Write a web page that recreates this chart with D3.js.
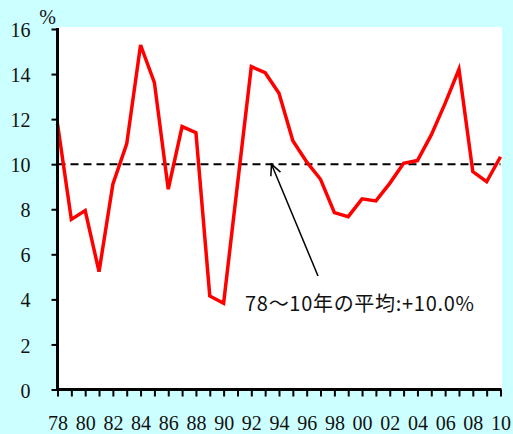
<!DOCTYPE html>
<html>
<head>
<meta charset="utf-8">
<script src="https://cdn.jsdelivr.net/npm/d3@7"></script>
<style>
  html, body { margin: 0; padding: 0; background: #ccffff; }
  svg { display: block; }
</style>
</head>
<body>
<svg id="chart" width="513" height="434"></svg>
<script>
// Annual growth rate (%), 1978–2010
const years = d3.range(1978, 2011);
const rates = [
  11.8, 7.55, 7.94, 5.23, 9.11, 10.9, 15.29, 13.62, 8.89, 11.67,
  11.4, 4.15, 3.83, 9.1, 14.33, 14.06, 13.15, 11.04, 10.1, 9.33,
  7.85, 7.67, 8.46, 8.37, 9.15, 10.04, 10.16, 11.3, 12.7, 14.21,
  9.67, 9.22, 10.33
];
const yTicks = [0, 2, 4, 6, 8, 10, 12, 14, 16];
const averageRate = 10.0;
const averageLabel = "78～10年の平均:+10.0%";
const unitLabel = "%";

const svg = d3.select("#chart");

const x = d3.scaleLinear().domain([1978, 2010]).range([57.5, 500.5]);
const y = d3.scaleLinear().domain([0, 16]).range([389.5, 29]);

// plot area
svg.append("rect")
  .attr("x", 57).attr("y", 27)
  .attr("width", 502 - 57).attr("height", 389.5 - 27)
  .attr("fill", "#ffffff");

// average reference line
svg.append("line")
  .attr("x1", x(1978)).attr("x2", x(2010))
  .attr("y1", y(averageRate)).attr("y2", y(averageRate))
  .attr("stroke", "#000").attr("stroke-width", 2)
  .attr("stroke-dasharray", "8,5");

// growth series
svg.append("path")
  .datum(years.map((yr, i) => [yr, rates[i]]))
  .attr("fill", "none")
  .attr("stroke", "#ff0000")
  .attr("stroke-width", 3.5)
  .attr("stroke-linejoin", "miter")
  .attr("d", d3.line().x(d => x(d[0])).y(d => y(d[1])));

// y axis
const yAxis = svg.append("g")
  .attr("transform", `translate(${x(1978)},0)`)
  .call(d3.axisLeft(y).tickValues(yTicks).tickSize(6).tickSizeOuter(0).tickPadding(21));
yAxis.select(".domain").attr("stroke-width", 3).attr("d", `M0,${y(0)}V${y(16) - 1}`);
yAxis.selectAll(".tick line").attr("stroke-width", 2);
yAxis.selectAll(".tick text")
  .attr("font-family", "'Liberation Serif', serif")
  .attr("font-size", 20).attr("fill", "#111")
  .attr("dy", "0.38em");

// x axis
const xAxis = svg.append("g")
  .attr("transform", `translate(0,${y(0)})`)
  .call(d3.axisBottom(x).tickValues(years).tickSize(7).tickSizeOuter(0).tickPadding(19)
    .tickFormat(d => d % 2 === 0 ? String(d % 100).padStart(2, "0") : ""));
xAxis.select(".domain").attr("stroke-width", 3).attr("d", `M${x(1978) - 1.5},0H${x(2010) + 1}`);
xAxis.selectAll(".tick line").attr("stroke-width", 2);
xAxis.selectAll(".tick text")
  .attr("font-family", "'Liberation Serif', serif")
  .attr("font-size", 20).attr("fill", "#111");

// unit label
svg.append("text")
  .attr("x", 47.5).attr("y", 24)
  .attr("text-anchor", "middle")
  .attr("font-family", "'Liberation Serif', serif")
  .attr("font-size", 20).attr("fill", "#111")
  .text(unitLabel);

// annotation arrow pointing at the average line
const tip = [271.5, y(averageRate)];
const tail = [318, 276];
svg.append("line")
  .attr("x1", tail[0]).attr("y1", tail[1])
  .attr("x2", tip[0]).attr("y2", tip[1])
  .attr("stroke", "#000").attr("stroke-width", 1.5);
const ang = Math.atan2(tail[1] - tip[1], tail[0] - tip[0]);
const headLen = 12, spread = 0.45;
svg.append("path")
  .attr("fill", "none").attr("stroke", "#000").attr("stroke-width", 1.5)
  .attr("d", `M${tip[0] + headLen * Math.cos(ang - spread)},${tip[1] + headLen * Math.sin(ang - spread)}` +
             `L${tip[0]},${tip[1]}` +
             `L${tip[0] + headLen * Math.cos(ang + spread)},${tip[1] + headLen * Math.sin(ang + spread)}`);

svg.append("text")
  .attr("x", 245).attr("y", 311)
  .attr("font-family", "'Noto Sans CJK JP', sans-serif")
  .attr("font-size", 20).attr("fill", "#111")
  .attr("textLength", 229).attr("lengthAdjust", "spacing")
  .text(averageLabel);
</script>
</body>
</html>
